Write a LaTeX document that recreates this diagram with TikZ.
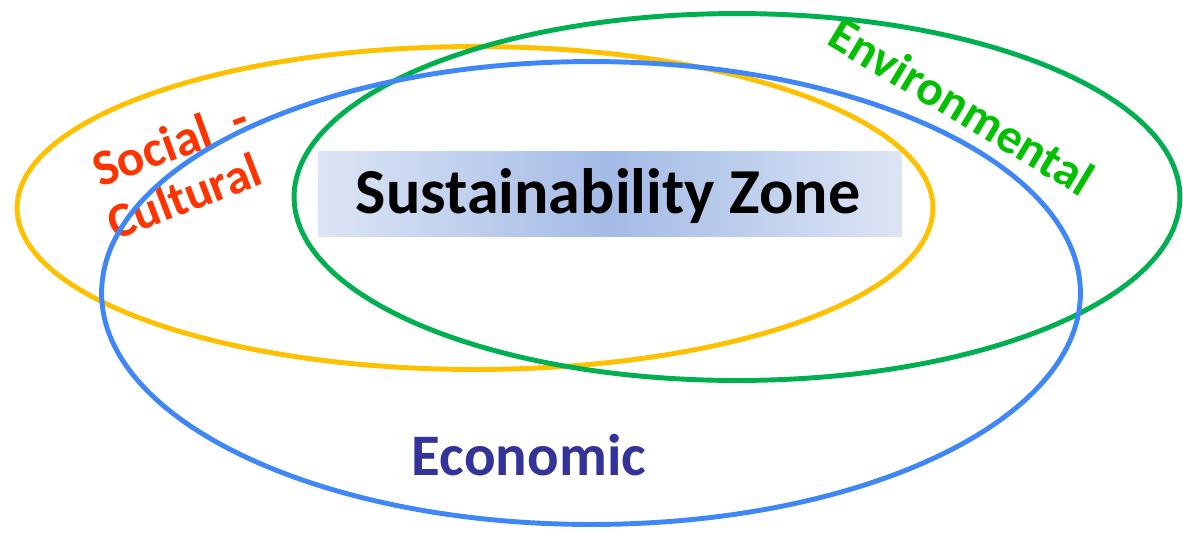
\documentclass[tikz,border=0pt]{standalone}
\usepackage{fontspec}
\setmainfont{Carlito}
\usetikzlibrary{shapes.geometric}

\definecolor{ringyellow}{HTML}{FFC000}
\definecolor{ringgreen}{HTML}{00B050}
\definecolor{ringblue}{HTML}{3F87F7}
\definecolor{txtred}{HTML}{FF3300}
\definecolor{txtgreen}{HTML}{00C000}
\definecolor{txtblue}{HTML}{333399}
\definecolor{zonemid}{HTML}{A3BBE6}
\definecolor{zoneedge}{HTML}{DDE5F4}

\begin{document}
\begin{tikzpicture}[x=0.02cm, y=-0.02cm,
  ring/.style={ellipse, draw, line width=2.8pt, inner sep=0pt},
  label/.style={font=\bfseries, inner sep=0pt}]

  \useasboundingbox (0,0) rectangle (1183,532);

  % zone in the middle
  \node[rectangle, minimum width=11.68cm, minimum height=1.7cm,
        left color=zoneedge, right color=zoneedge, middle color=zonemid] (zone) at (610,194) {};
  \node[label, font=\bfseries\fontsize{36.5}{40}\selectfont] (zonetext) at (608,196) {Sustainability Zone};

  % labels
  \node[label, txtred, font=\bfseries\fontsize{29}{32}\selectfont, rotate=20] (social) at (170,143) {Social~~-};
  \node[label, txtred, font=\bfseries\fontsize{28}{31}\selectfont, rotate=21] (cultural) at (184,196) {Cultural};
  \node[label, txtgreen, font=\bfseries\fontsize{28}{31}\selectfont, rotate=-31] (environ) at (962,106) {Environmental};
  \node[label, txtblue, font=\bfseries\fontsize{33.5}{37}\selectfont] (econ) at (529,455) {Economic};

  % the three rings
  \node[ring, ringyellow, minimum width=18.32cm, minimum height=6.46cm] (socring) at (475,208) {};
  \node[ring, ringgreen, minimum width=17.72cm, minimum height=7.34cm] (envring) at (737,197) {};
  \node[ring, ringblue, minimum width=19.58cm, minimum height=9.26cm] (ecoring) at (591,293) {};

\end{tikzpicture}
\end{document}
